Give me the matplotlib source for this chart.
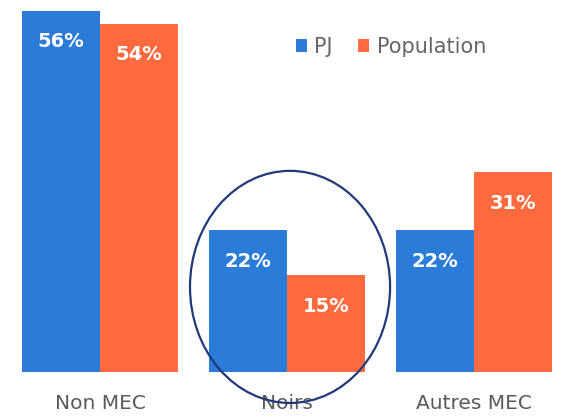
import numpy as np
import matplotlib.pyplot as plt
from matplotlib.patches import Ellipse

## Data
categories = ['Non MEC', 'Noirs', 'Autres MEC']
pj = [56, 22, 22]          # [%]
population = [54, 15, 31]  # [%]
series_names = ['PJ', 'Population']

## Style
c_blue = '#2b7bd8'
c_orange = '#ff6a3f'
c_text = '#5a5a5a'
bw = 0.417  # bar width [-]

fig = plt.figure(figsize=(5.81, 4.18), dpi=100)
fig.patch.set_facecolor('white')
ax = fig.add_axes([0, 0.110, 1, 0.890])

x = np.arange(len(categories))
b1 = ax.bar(x - bw/2, pj, bw, color=c_blue, label=series_names[0])
b2 = ax.bar(x + bw/2, population, bw, color=c_orange, label=series_names[1])

# value labels inside the bars
for bars, vals in [(b1, pj), (b2, population)]:
    for r, v in zip(bars, vals):
        ax.text(r.get_x() + r.get_width()/2, v - 4.8, '%d%%' % v,
                ha='center', va='center', color='white',
                fontsize=14, fontweight='bold')

ax.set_xlim(-0.535, 2.572)
ax.set_ylim(0, 57.7)
ax.set_xticks(x)
ax.set_xticklabels(categories, fontsize=14.5, color=c_text)
ax.tick_params(axis='x', length=0, pad=16)
ax.set_yticks([])
for s in ax.spines.values():
    s.set_visible(False)

# circle around "Noirs"
ell = Ellipse((1.016, 13.2), 1.07, 36, fill=False, edgecolor='#1f3a7a',
              linewidth=1.6, clip_on=False, zorder=5)
ax.add_patch(ell)

leg = fig.legend(handles=[b1, b2], loc='center left',
                 bbox_to_anchor=(0.509, 0.888), ncol=2, frameon=False,
                 fontsize=15, handlelength=0.55, handleheight=0.65,
                 handletextpad=0.35, columnspacing=1.2,
                 borderpad=0, borderaxespad=0)
for t in leg.get_texts():
    t.set_color('#666666')

fig.savefig('out.png', dpi=100)
